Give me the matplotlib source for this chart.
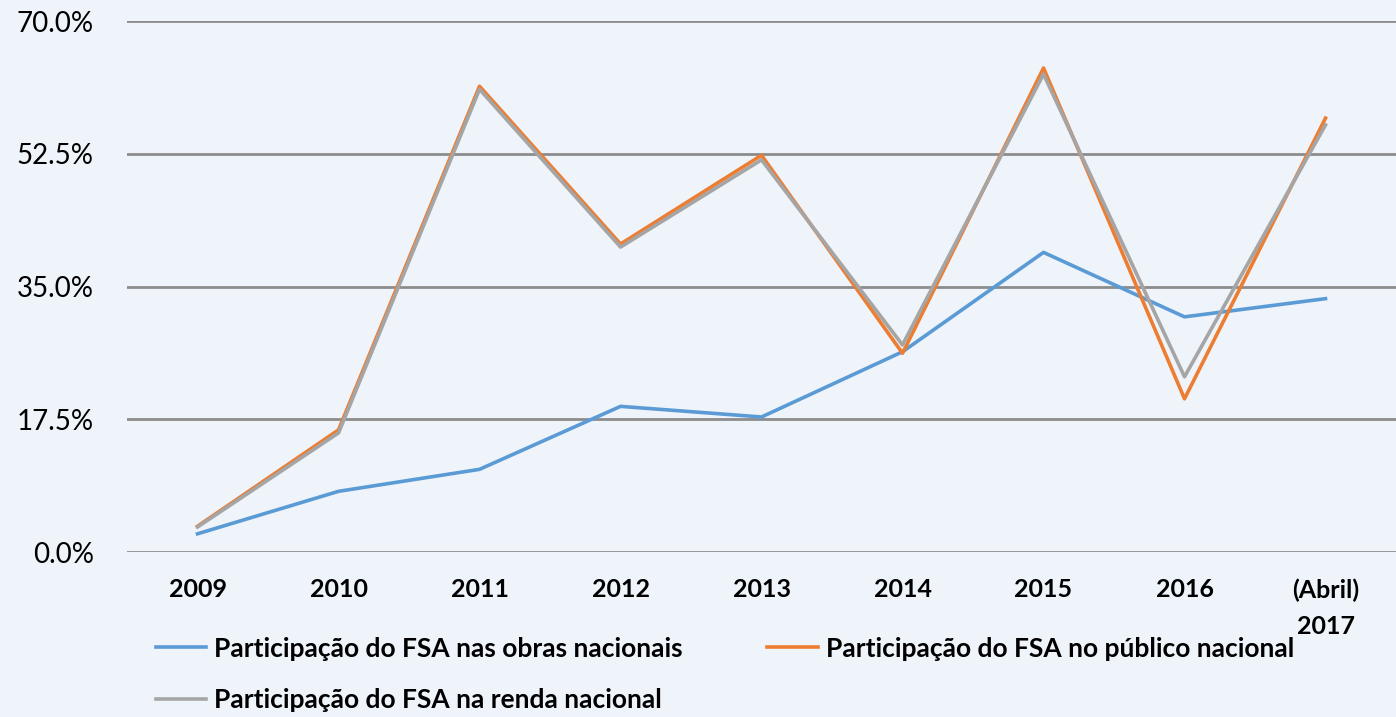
import matplotlib.pyplot as plt
import numpy as np

# dados
anos = ['2009', '2010', '2011', '2012', '2013', '2014', '2015', '2016', '(Abril)\n2017']
obras = [2.4, 8.0, 10.9, 19.2, 17.8, 26.4, 39.5, 31.0, 33.4]
publico = [3.4, 16.1, 61.4, 40.6, 52.3, 26.2, 63.8, 20.2, 57.2]
renda = [3.3, 15.7, 61.0, 40.2, 51.7, 27.3, 63.0, 23.1, 56.3]
nomes = ['Participação do FSA nas obras nacionais',
         'Participação do FSA no público nacional',
         'Participação do FSA na renda nacional']
cores = ['#5b9bd5', '#ed7d31', '#a5a5a5']
yticks = [0, 17.5, 35, 52.5, 70]

plt.rcParams['font.family'] = ['Lato', 'DejaVu Sans']
bg = '#eff4fb'

fig = plt.figure(figsize=(13.96, 7.17), dpi=100, facecolor=bg)
ax = fig.add_axes([0.091, 0.2301, 0.909, 0.7406])
ax.set_facecolor(bg)

x = np.arange(len(anos))
linhas = []
for serie, nome, cor in zip([obras, publico, renda], nomes, cores):
    l, = ax.plot(x, serie, color=cor, lw=2.6, label=nome)
    linhas.append(l)

ax.set_xlim(-0.5, len(anos) - 0.5)
ax.set_ylim(0, 70)
ax.set_yticks(yticks)
ax.set_yticklabels(['%.1f%%' % v for v in yticks], fontsize=20)
ax.set_xticks(x)
ax.set_xticklabels(anos, fontsize=18, fontweight='bold', linespacing=1.7, va='top')
ax.tick_params(axis='both', length=0)
ax.tick_params(axis='x', pad=19)
ax.tick_params(axis='y', pad=24)
for s in ax.spines.values():
    s.set_visible(False)
ax.yaxis.grid(True, color='#8c8c8c', lw=2)
ax.set_axisbelow(True)

# ordem da legenda: linha 1 obras + publico, linha 2 renda
ordem = [linhas[0], linhas[2], linhas[1]]
fig.legend(ordem, [l.get_label() for l in ordem],
           loc='upper left', bbox_to_anchor=(0.112, 0.112), ncol=2, frameon=False,
           prop={'size': 19, 'weight': 'bold'}, handlelength=1.9, handletextpad=0.3,
           columnspacing=3.2, labelspacing=1.05, borderaxespad=0, borderpad=0)

fig.savefig('out.png', dpi=100, facecolor=bg)
